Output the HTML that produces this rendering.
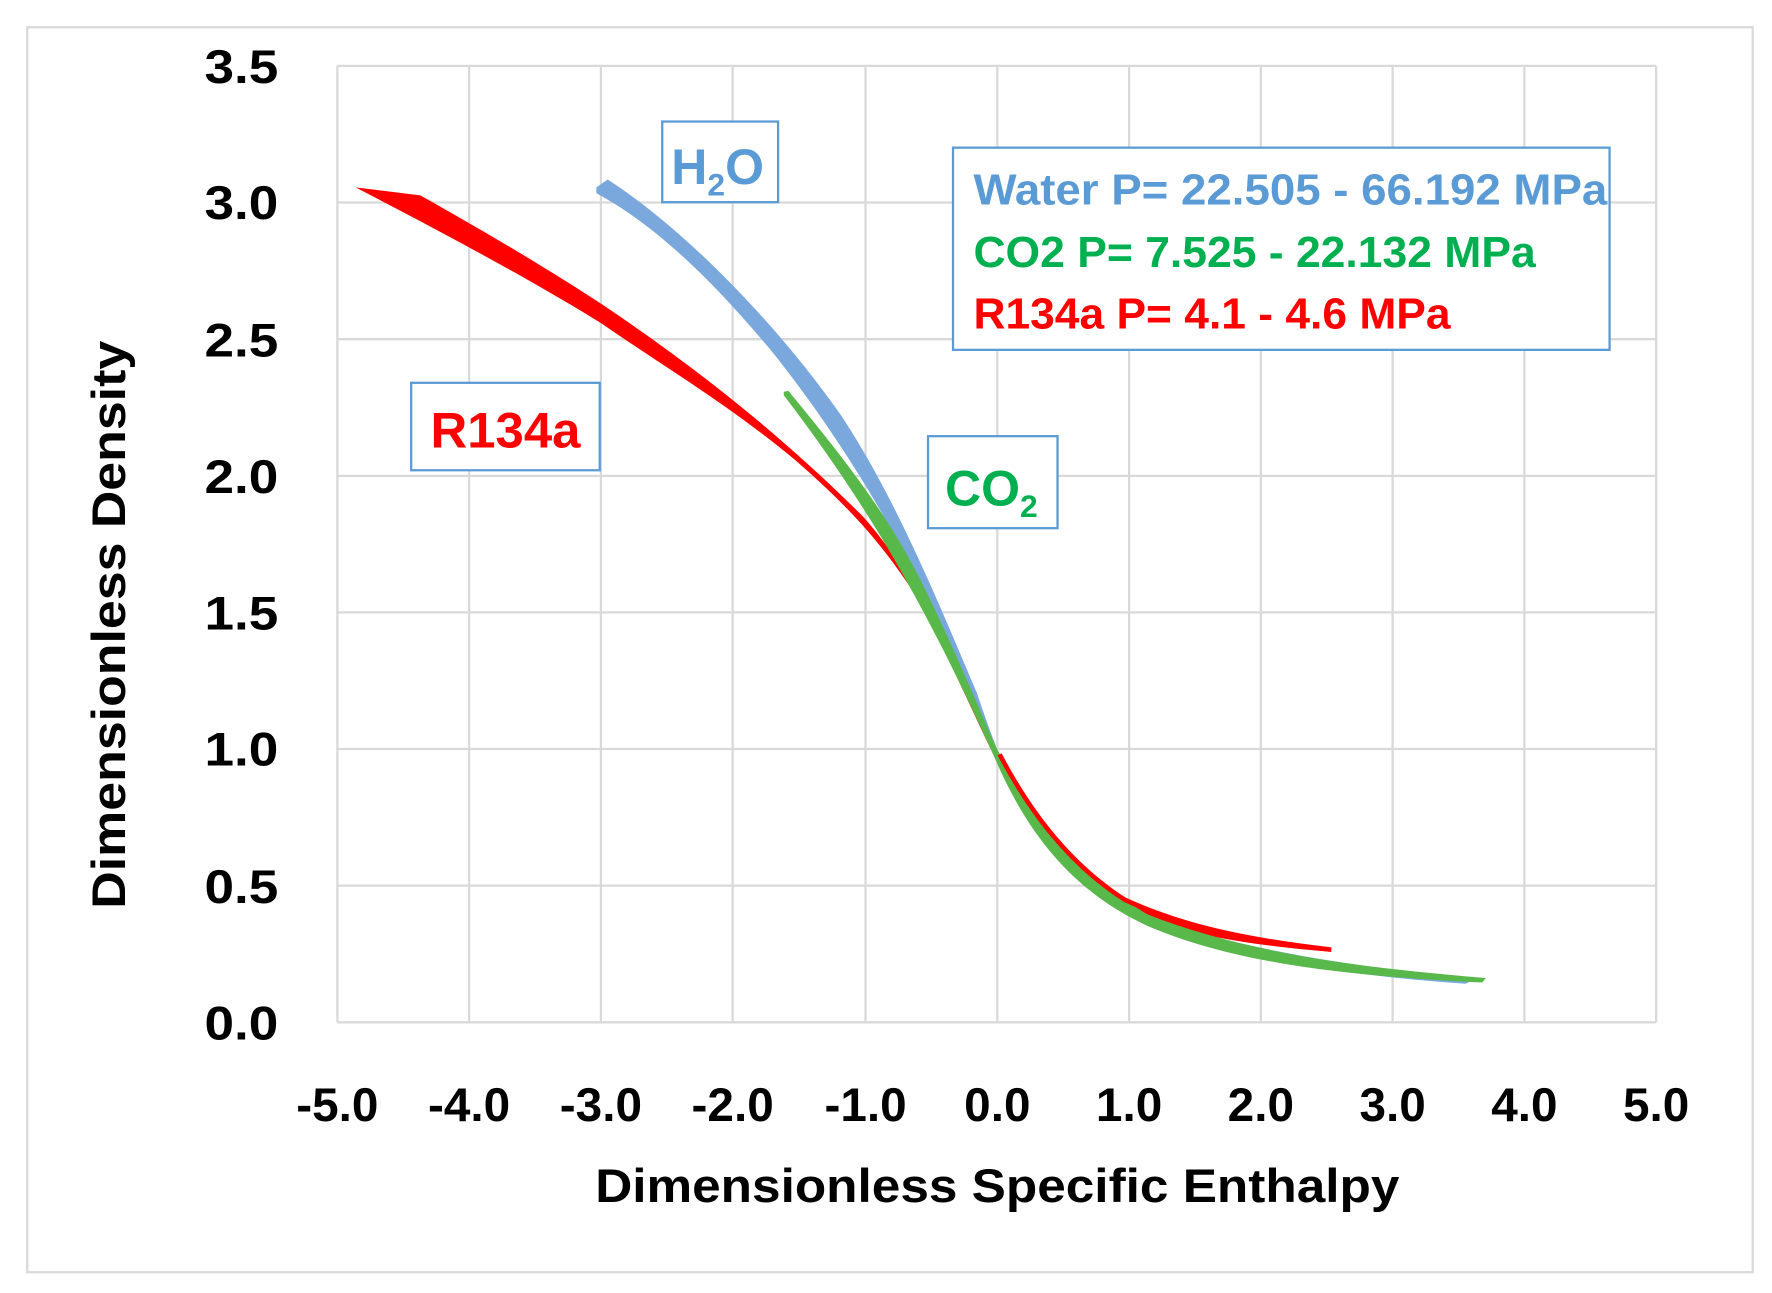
<!DOCTYPE html>
<html><head><meta charset="utf-8"><style>html,body{margin:0;padding:0;background:#fff}svg{display:block}</style></head>
<body>
<svg width="1772" height="1293" viewBox="0 0 1560 1138.3" preserveAspectRatio="none" font-family="Liberation Sans, sans-serif" font-weight="bold">
<rect x="24" y="24" width="1519" height="1096" fill="#fff" stroke="#d9d9d9" stroke-width="2"/>
<g stroke="#d9d9d9" stroke-width="2">
<line x1="297" y1="58" x2="1458" y2="58"/><line x1="297" y1="178.3" x2="1458" y2="178.3"/><line x1="297" y1="298.6" x2="1458" y2="298.6"/><line x1="297" y1="418.9" x2="1458" y2="418.9"/><line x1="297" y1="539.1" x2="1458" y2="539.1"/><line x1="297" y1="659.4" x2="1458" y2="659.4"/><line x1="297" y1="779.7" x2="1458" y2="779.7"/><line x1="297" y1="900" x2="1458" y2="900"/>
<line x1="297" y1="58" x2="297" y2="900"/><line x1="413" y1="58" x2="413" y2="900"/><line x1="529" y1="58" x2="529" y2="900"/><line x1="645" y1="58" x2="645" y2="900"/><line x1="762" y1="58" x2="762" y2="900"/><line x1="878" y1="58" x2="878" y2="900"/><line x1="994" y1="58" x2="994" y2="900"/><line x1="1110" y1="58" x2="1110" y2="900"/><line x1="1226" y1="58" x2="1226" y2="900"/><line x1="1342" y1="58" x2="1342" y2="900"/><line x1="1458" y1="58" x2="1458" y2="900"/>
</g>
<g font-size="42" text-anchor="end" fill="#000">
<text x="245" y="73" textLength="65" lengthAdjust="spacingAndGlyphs">3.5</text>
<text x="245" y="193" textLength="65" lengthAdjust="spacingAndGlyphs">3.0</text>
<text x="245" y="314" textLength="65" lengthAdjust="spacingAndGlyphs">2.5</text>
<text x="245" y="434" textLength="65" lengthAdjust="spacingAndGlyphs">2.0</text>
<text x="245" y="554" textLength="65" lengthAdjust="spacingAndGlyphs">1.5</text>
<text x="245" y="674" textLength="65" lengthAdjust="spacingAndGlyphs">1.0</text>
<text x="245" y="795" textLength="65" lengthAdjust="spacingAndGlyphs">0.5</text>
<text x="245" y="915" textLength="65" lengthAdjust="spacingAndGlyphs">0.0</text>
</g>
<g font-size="42" text-anchor="middle" fill="#000">
<text x="297" y="987">-5.0</text><text x="413" y="987">-4.0</text><text x="529" y="987">-3.0</text><text x="645" y="987">-2.0</text><text x="762" y="987">-1.0</text><text x="878" y="987">0.0</text><text x="994" y="987">1.0</text><text x="1110" y="987">2.0</text><text x="1226" y="987">3.0</text><text x="1342" y="987">4.0</text><text x="1458" y="987">5.0</text>
</g>
<text x="878" y="1058" font-size="42" text-anchor="middle" textLength="708" lengthAdjust="spacingAndGlyphs">Dimensionless Specific Enthalpy</text>
<text transform="translate(110,550) rotate(-90)" font-size="42" text-anchor="middle" textLength="500" lengthAdjust="spacingAndGlyphs">Dimensionless Density</text>
<!-- red -->
<path d="M313,165 L370,172 C420,200 480,235 530,268 C600,315 680,375 760,455 C800,500 830,560 860,620 C870,640 878,660 878,660 C900,700 930,750 980,785 C1040,815 1110,828 1172,836 L1172,838 C1100,832 1030,822 975,795 C925,760 895,710 875,665 C855,625 830,565 800,515 C770,470 740,440 700,405 C640,355 580,320 530,285 C470,248 400,210 313,165 Z" fill="#ff0000"/>
<!-- blue -->
<path d="M525,165 L535,158 C600,200 680,280 740,365 C790,440 830,540 860,610 C870,640 878,660 878,660 C905,715 950,770 1010,805 C1080,835 1200,852 1300,862 L1290,866 C1200,860 1090,845 1010,815 C950,785 910,735 878,665 C850,600 820,540 795,485 C760,420 720,360 680,310 C630,250 580,200 525,170 Z" fill="#7aa8dc"/>
<!-- green -->
<path d="M690,345 L694,344 C740,400 780,450 810,510 C840,570 860,620 878,660 C905,715 945,765 1010,805 C1100,840 1200,852 1308,861 L1305,865 C1200,860 1090,850 1010,815 C945,785 905,735 876,668 C850,610 825,560 800,515 C770,460 730,400 690,348 Z" fill="#59b84a"/>
<path d="M880,664 C905,712 940,760 990,792 C1050,820 1120,830 1172,836" stroke="#ff0000" stroke-width="4" fill="none"/>
<!-- labels -->
<rect x="583" y="107" width="102" height="71" fill="#fff" stroke="#5b9bd5" stroke-width="2"/>
<text x="591" y="162" font-size="44" fill="#5b9bd5">H<tspan font-size="28" dy="10">2</tspan><tspan dy="-10">O</tspan></text>
<rect x="362" y="337" width="166" height="77" fill="#fff" stroke="#5b9bd5" stroke-width="2"/>
<text x="445" y="394" font-size="44" fill="#ff0000" text-anchor="middle" textLength="132" lengthAdjust="spacingAndGlyphs">R134a</text>
<rect x="817" y="384" width="114" height="81" fill="#fff" stroke="#5b9bd5" stroke-width="2"/>
<text x="832" y="445" font-size="44" fill="#00b050">CO<tspan font-size="28" dy="10">2</tspan></text>
<rect x="839" y="130" width="578" height="178" fill="#fff" stroke="#5b9bd5" stroke-width="2"/>
<g font-size="38">
<text x="857" y="180" fill="#5b9bd5" textLength="558" lengthAdjust="spacingAndGlyphs">Water P= 22.505 - 66.192 MPa</text>
<text x="857" y="235" fill="#00b050" textLength="495" lengthAdjust="spacingAndGlyphs">CO2 P= 7.525 - 22.132 MPa</text>
<text x="857" y="289" fill="#ff0000" textLength="420" lengthAdjust="spacingAndGlyphs">R134a P= 4.1 - 4.6 MPa</text>
</g>
</svg>
</body></html>
